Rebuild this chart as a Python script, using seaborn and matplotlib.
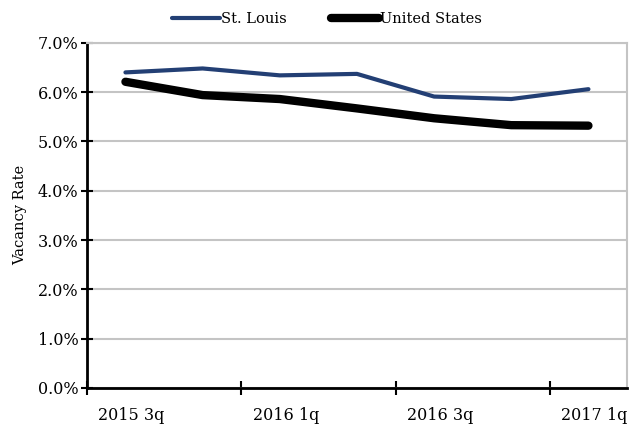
import matplotlib
matplotlib.use("Agg")
import matplotlib.pyplot as plt
import seaborn as sns
import pandas as pd
from matplotlib.ticker import FixedLocator, PercentFormatter

quarters = ["2015 3q", "2015 4q", "2016 1q", "2016 2q", "2016 3q", "2016 4q", "2017 1q"]
st_louis = [6.40, 6.48, 6.34, 6.37, 5.91, 5.86, 6.06]
united_states = [6.21, 5.94, 5.86, 5.67, 5.47, 5.33, 5.32]
shown_labels = ["2015 3q", "2016 1q", "2016 3q", "2017 1q"]

sns.set_style("white")
plt.rcParams['font.family'] = ['DejaVu Serif']
plt.rcParams['text.color'] = 'black'

df = pd.DataFrame({
    "quarter": quarters * 2,
    "rate": st_louis + united_states,
    "series": ["St. Louis"] * len(quarters) + ["United States"] * len(quarters),
})

fig = plt.figure(figsize=(6.34, 4.24), dpi=100)
ax = fig.add_axes([0.137, 0.085, 0.852, 0.814])

sns.lineplot(data=df, x="quarter", y="rate", hue="series", size="series",
             sizes={"St. Louis": 3, "United States": 6},
             palette={"St. Louis": "#233f74", "United States": "#000000"},
             ax=ax, legend=False, sort=False)
for ln in ax.lines:
    ln.set_solid_capstyle("round")

ax.set_xlim(-0.5, len(quarters) - 0.5)
ax.set_ylim(0, 7)
ax.yaxis.set_major_locator(FixedLocator(range(0, 8)))
ax.yaxis.set_major_formatter(PercentFormatter(decimals=1))
ax.grid(axis="y", color="#c4c4c4", lw=1.5)
ax.set_axisbelow(True)

# ticks at category boundaries, labels under every other quarter
ax.set_xticks([-0.5, 1.5, 3.5, 5.5])
ax.set_xticklabels([])
ax.set_xticks([quarters.index(q) + 0.08 for q in shown_labels], minor=True)
ax.set_xticklabels(shown_labels, minor=True)
ax.tick_params(axis="x", which="major", bottom=True, direction="inout", length=10, width=1.5, color="black")
ax.tick_params(axis="x", which="minor", bottom=False, length=0, pad=14, labelsize=11.5, labelcolor="black")
ax.tick_params(axis="y", left=True, direction="inout", length=8, width=1.5, color="black",
               labelsize=11.5, pad=2, labelcolor="black")

for s in ["left", "bottom"]:
    ax.spines[s].set_color("black")
    ax.spines[s].set_linewidth(2)
for s in ["top", "right"]:
    ax.spines[s].set_color("#c4c4c4")
    ax.spines[s].set_linewidth(1.5)

ax.set_xlabel("")
ax.set_ylabel("Vacancy Rate", fontsize=10.5, labelpad=8, color="black")

handles = [plt.Line2D([], [], color="#233f74", lw=3, solid_capstyle="round"),
           plt.Line2D([], [], color="black", lw=6, solid_capstyle="round")]
fig.legend(handles, ["St. Louis", "United States"], loc="center left", bbox_to_anchor=(0.271, 0.955),
           ncol=2, frameon=False, borderpad=0, borderaxespad=0, handlelength=3.3,
           handletextpad=0.1, columnspacing=3.0, fontsize=10.5)

fig.savefig("out.png", dpi=100)
